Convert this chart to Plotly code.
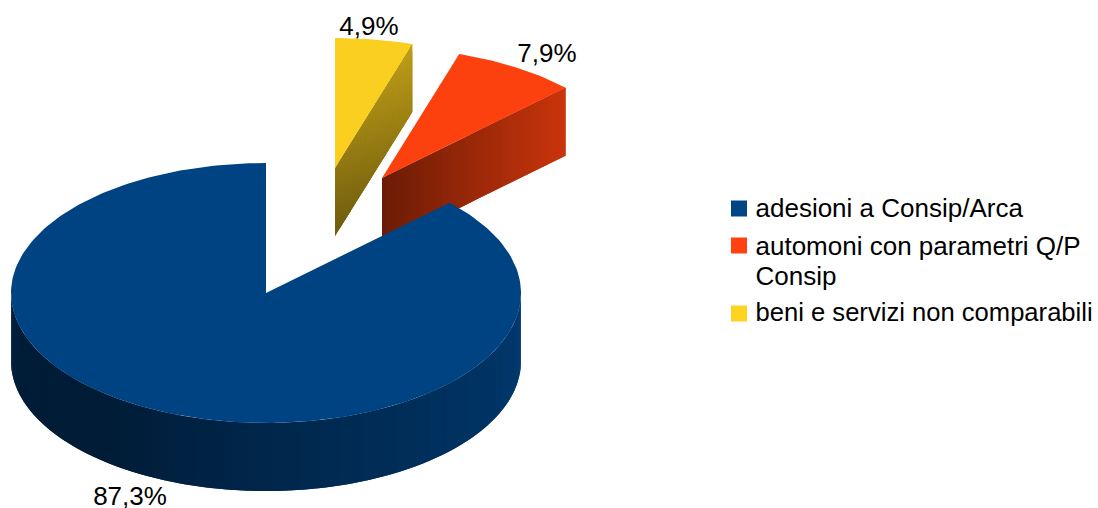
import numpy as np
import plotly.graph_objects as go

# --- data ---
categories = ["adesioni a Consip/Arca", "automoni con parametri Q/P<br>Consip", "beni e servizi non comparabili"]
values = [87.3, 7.9, 4.9]
colors = ["#004586", "#ff420e", "#ffd320"]

# --- pixel-space projection of the tilted pie ---
CX, CY, RX, RY, DEPTH = 266.0, 293.0, 255.0, 130.0, 68.0
EXPLODE = {0: (0.0, 0.0), 1: (116.0, -115.0), 2: (69.0, -125.0)}
LABEL_POS = {0: (130, 498), 1: (547, 55), 2: (369, 28)}
TOP_SHADE = {0: 0.97, 1: 0.99, 2: 0.98}
LEGEND_X, LEGEND_TEXT_X = 739, 755.5
LEGEND_MARK_Y = [208.5, 245.5, 313.5]
LEGEND_LINE_Y = [[210], [248, 278], [315]]
LEGEND_LINE_SIZE = [26, 26, 26, 25.6]
FONT = "Liberation Sans"
FONT_SIZE = 26


def pt(theta, i, r=1.0, down=0.0):
    """theta in degrees clockwise from 12 o'clock."""
    t = np.radians(theta)
    dx, dy = EXPLODE[i]
    return (CX + dx + r * RX * np.sin(t), CY + dy - r * RY * np.cos(t) + down)


def shade(color, f):
    rgb = [int(color[k:k + 2], 16) for k in (1, 3, 5)]
    return "rgb(%d,%d,%d)" % tuple(round(c * f) for c in rgb)


def poly(fig, pts, color):
    xs = [p[0] for p in pts] + [pts[0][0]]
    ys = [p[1] for p in pts] + [pts[0][1]]
    fig.add_trace(go.Scatter(x=xs, y=ys, mode="lines", fill="toself", fillcolor=color,
                             line=dict(color=color, width=0), hoverinfo="skip", showlegend=False))


total = sum(values)
# Slices run clockwise from 12 o'clock in reverse order: yellow, red, then blue.
yellow_end = values[2] / total * 360
red_end = yellow_end + values[1] / total * 360

fig = go.Figure()

# yellow slice: cut face painted as overlapping cells, then top
na, nd = 20, 10
for k in range(na):
    for m in range(nd):
        a0, a1 = k / na, min(1, (k + 2) / na)
        d0, d1 = m / nd, min(1, (m + 2) / nd)
        f = 0.56 - 0.13 * (m + 0.5) / nd + 0.19 * (k + 0.5) / na
        poly(fig, [pt(yellow_end, 2, a0, d0 * DEPTH), pt(yellow_end, 2, a1, d0 * DEPTH),
                   pt(yellow_end, 2, a1, d1 * DEPTH), pt(yellow_end, 2, a0, d1 * DEPTH)],
             shade(colors[2], f))
poly(fig, [pt(0, 2, 0)] + [pt(t, 2) for t in np.linspace(0, yellow_end, 30)],
     shade(colors[2], TOP_SHADE[2]))

# red slice: cut face painted as overlapping strips, then top
n = 40
for k in range(n):
    a, b = k / n, min(1, (k + 2) / n)
    poly(fig, [pt(red_end, 1, a), pt(red_end, 1, b), pt(red_end, 1, b, DEPTH), pt(red_end, 1, a, DEPTH)],
         shade(colors[1], np.interp((k + 0.5) / n, [0, 1], [0.42, 0.79])))
poly(fig, [pt(0, 1, 0)] + [pt(t, 1) for t in np.linspace(yellow_end, red_end, 30)],
     shade(colors[1], TOP_SHADE[1]))

# blue slice: rim painted as overlapping strips, then top
n = 180
for k in range(n):
    t0 = 90 + 180 * k / n
    t1 = min(270, 90 + 180 * (k + 2) / n)
    f = np.interp(90 + 180 * (k + 0.5) / n, [90, 130, 180, 220, 250, 270], [0.84, 0.72, 0.56, 0.40, 0.41, 0.47])
    ts = np.linspace(t0, t1, 3)
    poly(fig, [pt(t, 0) for t in ts] + [pt(t, 0, 1, DEPTH) for t in ts[::-1]], shade(colors[0], f))
poly(fig, [pt(0, 0, 0)] + [pt(t, 0) for t in np.linspace(red_end, 360, 240)],
     shade(colors[0], TOP_SHADE[0]))

# value labels
fig.add_trace(go.Scatter(
    x=[LABEL_POS[i][0] for i in range(3)], y=[LABEL_POS[i][1] for i in range(3)],
    mode="text", text=[f"{v:.1f}%".replace(".", ",") for v in values],
    textposition="middle center", textfont=dict(family=FONT, size=FONT_SIZE, color="#000000"),
    cliponaxis=False, hoverinfo="skip", showlegend=False))

# legend: square swatches and their text
fig.add_trace(go.Scatter(x=[LEGEND_X] * 3, y=LEGEND_MARK_Y, mode="markers",
                         marker=dict(symbol="square", size=16, color=colors, line=dict(width=0)),
                         hoverinfo="skip", showlegend=False))
line_y, line_text = [], []
for name, ys in zip(categories, LEGEND_LINE_Y):
    for part, y in zip(name.split("<br>"), ys):
        line_text.append(part)
        line_y.append(y)
fig.add_trace(go.Scatter(x=[LEGEND_TEXT_X] * len(line_y), y=line_y, mode="text", text=line_text,
                         textposition="middle right",
                         textfont=dict(family=FONT, size=LEGEND_LINE_SIZE, color="#000000"),
                         cliponaxis=False, hoverinfo="skip", showlegend=False))

fig.update_layout(
    width=1098, height=508, margin=dict(l=0, r=0, t=0, b=0),
    paper_bgcolor="#ffffff", plot_bgcolor="#ffffff", showlegend=False,
    xaxis=dict(range=[0, 1098], visible=False, fixedrange=True),
    yaxis=dict(range=[508, 0], visible=False, fixedrange=True),
)

fig.write_html("out.html", config={"displayModeBar": False},
               post_script="document.body.style.margin='0';")
